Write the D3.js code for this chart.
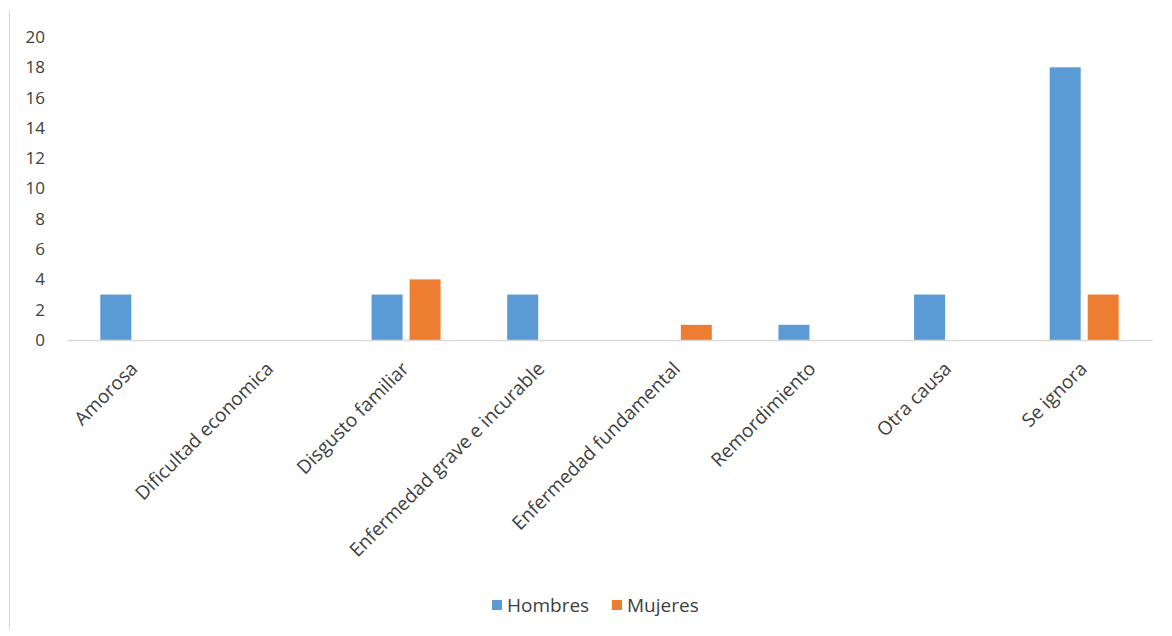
<!DOCTYPE html>
<html>
<head>
<meta charset="utf-8">
<script src="https://cdn.jsdelivr.net/npm/d3@7/dist/d3.min.js"></script>
<style>
  html, body { margin: 0; padding: 0; background: #fff; }
  svg { display: block; }
  text { font-family: "Open Sans", "Noto Sans", sans-serif; fill: #404040; }
</style>
</head>
<body>
<svg id="chart" width="1172" height="636"></svg>
<script>
// Causes and counts by sex
const categories = [
  "Amorosa",
  "Dificultad economica",
  "Disgusto familiar",
  "Enfermedad grave e incurable",
  "Enfermedad fundamental",
  "Remordimiento",
  "Otra causa",
  "Se ignora"
];
const seriesNames = ["Hombres", "Mujeres"];
const hombres = [3, 0, 3, 3, 0, 1, 3, 18];
const mujeres = [0, 0, 4, 0, 1, 0, 0, 3];
const yTicks = [0, 2, 4, 6, 8, 10, 12, 14, 16, 18, 20];
const colors = ["#5b9bd5", "#ed7d31"];

const svg = d3.select("#chart");
const plot = { left: 67, right: 1152, top: 37, bottom: 340 };

// Frame edge on the left
svg.append("line")
  .attr("x1", 9.5).attr("x2", 9.5)
  .attr("y1", 10).attr("y2", 630)
  .attr("stroke", "#d9d9d9").attr("stroke-width", 1);

const x0 = d3.scaleBand().domain(categories).range([plot.left, plot.right]).padding(0);
const y = d3.scaleLinear().domain([0, 20]).range([plot.bottom, plot.top]);

const barW = 31, gap = 7;
const x1 = d3.scaleOrdinal().domain(seriesNames)
  .range([-(gap / 2) - barW, gap / 2]);

// Y axis labels (no axis line, no ticks)
const yAxis = d3.axisLeft(y).tickValues(yTicks).tickSize(0).tickPadding(0);
const gy = svg.append("g").attr("transform", `translate(45,0)`).call(yAxis);
gy.select(".domain").remove();
gy.selectAll("text")
  .style("font-size", "17px")
  .style("font-family", "'Open Sans', sans-serif")
  .attr("fill", "#404040");

// Bars
const data = categories.map((c, i) => ({ cat: c, values: [hombres[i], mujeres[i]] }));
const groups = svg.append("g").selectAll("g").data(data).join("g")
  .attr("transform", d => `translate(${x0(d.cat) + x0.bandwidth() / 2},0)`);
groups.selectAll("rect")
  .data(d => d.values.map((v, k) => ({ name: seriesNames[k], v, k })).filter(e => e.v > 0))
  .join("rect")
  .attr("x", e => x1(e.name))
  .attr("width", barW)
  .attr("y", e => y(e.v))
  .attr("height", e => y(0) - y(e.v))
  .attr("fill", e => colors[e.k]);

// X axis line and rotated labels
const xAxis = d3.axisBottom(x0).tickSize(0).tickPadding(0);
const gx = svg.append("g").attr("transform", `translate(0,${plot.bottom})`).call(xAxis);
gx.select(".domain").attr("stroke", "#d9d9d9").attr("stroke-width", 1.5);
gx.selectAll("text")
  .style("font-size", "19px")
  .style("font-family", "'Open Sans', sans-serif")
  .attr("fill", "#404040")
  .attr("text-anchor", "end")
  .attr("dy", null)
  .attr("y", 0)
  .attr("transform", "translate(4,30) rotate(-45)");

// Legend
const legend = svg.append("g").attr("transform", "translate(492,605)");
const items = [{ name: seriesNames[0], x: 0 }, { name: seriesNames[1], x: 120 }];
items.forEach((it, k) => {
  legend.append("rect").attr("x", it.x).attr("y", -5).attr("width", 10).attr("height", 10)
    .attr("fill", colors[k]);
  legend.append("text").attr("x", it.x + 15).attr("y", 0).attr("dy", "0.35em")
    .style("font-size", "19px").attr("fill", "#404040").text(it.name);
});
</script>
</body>
</html>
